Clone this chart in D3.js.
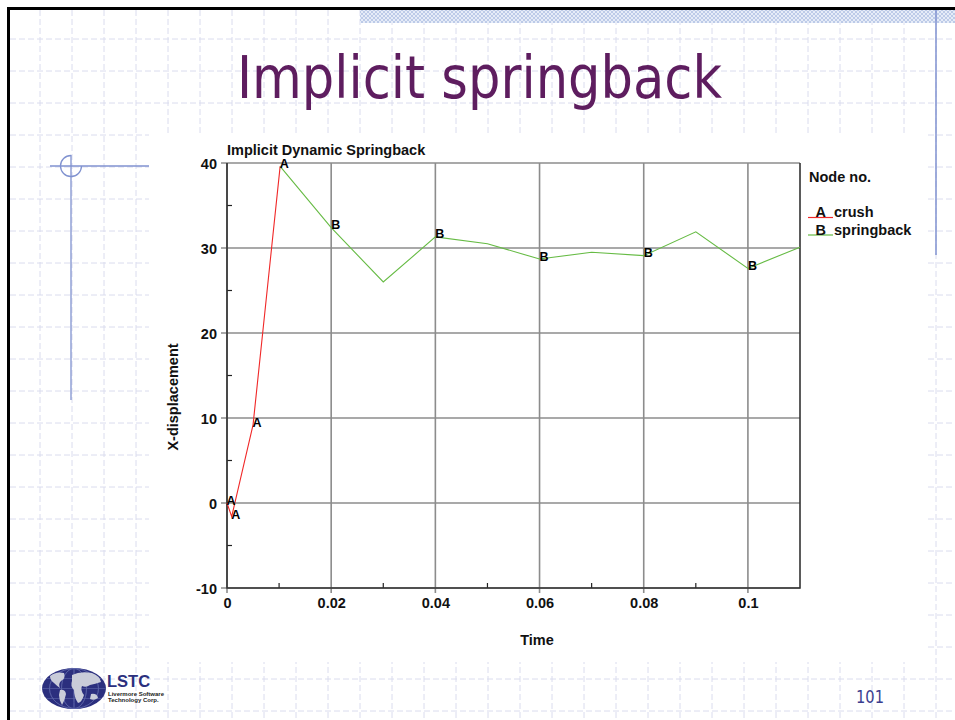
<!DOCTYPE html>
<html>
<head>
<meta charset="utf-8">
<script src="https://cdn.jsdelivr.net/npm/d3@7"></script>
<style>
  html, body { margin: 0; padding: 0; background: #fff; }
  svg { display: block; }
</style>
</head>
<body>
<script>
// ---- data -------------------------------------------------------------
const crushTime = [0, 0.0009, 0.005, 0.0102];
const crushX    = [0, -1.6, 9.2, 39.6];
const crushMarks = [0, 1, 2, 3];

const springTime = [0.0102, 0.02, 0.03, 0.04, 0.05, 0.06, 0.07, 0.08, 0.09, 0.1, 0.11];
const springX    = [39.6, 32.4, 26.0, 31.3, 30.5, 28.7, 29.5, 29.1, 31.9, 27.6, 30.1];
const springMarks = [1, 3, 5, 7, 9];

const xTicks = [0, 0.02, 0.04, 0.06, 0.08, 0.1];
const xTickLabels = ["0", "0.02", "0.04", "0.06", "0.08", "0.1"];
const xMinor = [0.01, 0.03, 0.05, 0.07, 0.09];
const yTicks = [-10, 0, 10, 20, 30, 40];
const yTickLabels = ["-10", "0", "10", "20", "30", "40"];
const yMinor = [-5, 5, 15, 25, 35];

const seriesNames = ["crush", "springback"];
const seriesKeys = ["A", "B"];
const seriesColors = ["#f02828", "#66bb44"];

// ---- page -------------------------------------------------------------
const W = 955, H = 720;
const svg = d3.select("body").append("svg").attr("width", W).attr("height", H);

const defs = svg.append("defs");
const pat = defs.append("pattern").attr("id", "hatch")
  .attr("width", 4).attr("height", 4).attr("patternUnits", "userSpaceOnUse");
pat.append("rect").attr("width", 4).attr("height", 4).attr("fill", "#e6ecf8");
pat.append("path").attr("d", "M0,0L4,4M4,0L0,4").attr("stroke", "#b9c7e6").attr("stroke-width", 0.9);

// dashed slide grid
const page = svg.append("g");
const gridX = d3.range(40, W, 32);
const gridY = d3.range(39, H, 32);
page.selectAll(".gv").data(gridX).join("line")
  .attr("x1", d => d).attr("x2", d => d).attr("y1", 10).attr("y2", H)
  .attr("stroke", "#dadcee").attr("stroke-dasharray", "6,3");
page.selectAll(".gh").data(gridY).join("line")
  .attr("x1", 10).attr("x2", W).attr("y1", d => d).attr("y2", d => d)
  .attr("stroke", "#dadcee").attr("stroke-dasharray", "6,3");

// hatched band at top
page.append("rect").attr("x", 360).attr("y", 10).attr("width", W - 360).attr("height", 13)
  .attr("fill", "url(#hatch)");

// black frame
page.append("line").attr("x1", 7).attr("x2", W).attr("y1", 8.5).attr("y2", 8.5)
  .attr("stroke", "#000").attr("stroke-width", 3);
page.append("line").attr("x1", 8.5).attr("x2", 8.5).attr("y1", 7).attr("y2", H)
  .attr("stroke", "#000").attr("stroke-width", 3);

// blue accent lines
const accent = "#8092d0";
page.append("line").attr("x1", 936).attr("x2", 936).attr("y1", 10).attr("y2", 255)
  .attr("stroke", accent).attr("stroke-width", 1.5);
page.append("line").attr("x1", 50).attr("x2", 150).attr("y1", 166).attr("y2", 166)
  .attr("stroke", accent).attr("stroke-width", 1.3);
page.append("line").attr("x1", 71).attr("x2", 71).attr("y1", 155).attr("y2", 400)
  .attr("stroke", accent).attr("stroke-width", 1.3);
page.append("path")
  .attr("d", d3.arc()({innerRadius: 10.5, outerRadius: 10.5, startAngle: 0, endAngle: -Math.PI * 1.5}))
  .attr("transform", "translate(71,166)")
  .attr("fill", "none").attr("stroke", accent).attr("stroke-width", 1.3);

// slide title
page.append("text").attr("x", 237).attr("y", 98)
  .attr("textLength", 485).attr("lengthAdjust", "spacingAndGlyphs")
  .attr("font-family", "Tahoma, 'DejaVu Sans Condensed', 'DejaVu Sans', sans-serif")
  .attr("font-size", 59).attr("fill", "#5e1d5f")
  .text("Implicit springback");

// page number
page.append("text").attr("x", 856).attr("y", 703)
  .attr("textLength", 28).attr("lengthAdjust", "spacingAndGlyphs")
  .attr("font-family", "Tahoma, 'DejaVu Sans', sans-serif")
  .attr("font-size", 18).attr("fill", "#3a3d8f").text("101");

// LSTC logo
const logo = page.append("g");
const navy = "#2b2f7e";
logo.append("ellipse").attr("cx", 74).attr("cy", 688.5).attr("rx", 32).attr("ry", 20.5)
  .attr("fill", navy);
[-24, -12, 0, 12, 24].forEach(dx => {
  logo.append("ellipse").attr("cx", 74).attr("cy", 688.5)
    .attr("rx", Math.abs(dx) + 0.5).attr("ry", 20)
    .attr("fill", "none").attr("stroke", "#5e66aa").attr("stroke-width", 0.6);
});
[-10, 0, 10].forEach(dy => {
  const hw = 32 * Math.sqrt(1 - (dy / 20.5) ** 2);
  logo.append("line").attr("x1", 74 - hw).attr("x2", 74 + hw)
    .attr("y1", 688.5 + dy).attr("y2", 688.5 + dy)
    .attr("stroke", "#5e66aa").attr("stroke-width", 0.6);
});
const land = "#c9ccd9";
logo.append("path").attr("fill", land)
  .attr("d", "M50,676 Q56,671 64,673 Q66,678 61,681 Q58,684 60,688 Q57,686 54,683 Q50,680 50,676Z");
logo.append("path").attr("fill", land)
  .attr("d", "M60,690 Q65,689 66,694 Q65,700 62,705 Q59,700 59,695Z");
logo.append("path").attr("fill", land)
  .attr("d", "M72,675 Q80,671 92,673 Q100,676 101,682 Q95,684 90,685 Q86,688 82,686 Q80,690 84,695 Q82,702 78,703 Q74,697 74,690 Q70,686 72,681Z");
logo.append("path").attr("fill", land)
  .attr("d", "M91,694 Q97,693 98,698 Q94,701 90,699Z");
logo.append("text").attr("x", 107).attr("y", 687)
  .attr("font-family", "'Liberation Sans', Arial, sans-serif").attr("font-weight", "bold")
  .attr("font-size", 16.5).attr("fill", navy).text("LSTC");
logo.append("text").attr("x", 108).attr("y", 695.5)
  .attr("font-family", "'Liberation Sans', Arial, sans-serif").attr("font-weight", "bold")
  .attr("font-size", 6).attr("fill", "#222").text("Livermore Software");
logo.append("text").attr("x", 108).attr("y", 702)
  .attr("font-family", "'Liberation Sans', Arial, sans-serif").attr("font-weight", "bold")
  .attr("font-size", 6).attr("fill", "#222").text("Technology Corp.");

// ---- chart ------------------------------------------------------------
page.append("rect").attr("x", 149).attr("y", 133).attr("width", 777).attr("height", 529)
  .attr("fill", "#fff");

const chart = svg.append("g")
  .attr("font-family", "'Liberation Sans', Arial, Helvetica, sans-serif")
  .attr("font-weight", "bold");

const x = d3.scaleLinear().domain([0, 0.11]).range([227, 800]);
const y = d3.scaleLinear().domain([-10, 40]).range([588, 163]);

// grid lines at major ticks (extending past the axes as tick marks)
chart.selectAll(".gy").data(yTicks).join("line")
  .attr("x1", x(0) - 6).attr("x2", x(0.11))
  .attr("y1", d => y(d)).attr("y2", d => y(d))
  .attr("stroke", "#8c8c8c").attr("stroke-width", 1.6);
chart.selectAll(".gx").data(xTicks).join("line")
  .attr("x1", d => x(d)).attr("x2", d => x(d))
  .attr("y1", y(40)).attr("y2", y(-10) + 5)
  .attr("stroke", "#8c8c8c").attr("stroke-width", 1.6);

// minor ticks pointing inward
chart.selectAll(".my").data(yMinor).join("line")
  .attr("x1", x(0)).attr("x2", x(0) + 5)
  .attr("y1", d => y(d)).attr("y2", d => y(d))
  .attr("stroke", "#222").attr("stroke-width", 1.2);
chart.selectAll(".mx").data(xMinor).join("line")
  .attr("x1", d => x(d)).attr("x2", d => x(d))
  .attr("y1", y(-10)).attr("y2", y(-10) - 5)
  .attr("stroke", "#222").attr("stroke-width", 1.2);

// frame: left, bottom, right in dark lines
chart.append("path")
  .attr("d", `M${x(0)},${y(40)}V${y(-10)}H${x(0.11)}V${y(40)}`)
  .attr("fill", "none").attr("stroke", "#333").attr("stroke-width", 1.6);

// tick labels through d3 axes
const axB = chart.append("g").attr("transform", `translate(0,${y(-10)})`)
  .call(d3.axisBottom(x).tickValues(xTicks).tickSize(0).tickPadding(10)
    .tickFormat((d, i) => xTickLabels[i]));
const axL = chart.append("g").attr("transform", `translate(${x(0)},0)`)
  .call(d3.axisLeft(y).tickValues(yTicks).tickSize(0).tickPadding(10)
    .tickFormat((d, i) => yTickLabels[i]));
[axB, axL].forEach(a => {
  a.select(".domain").remove();
  a.selectAll("text").attr("font-family", "'Liberation Sans', Arial, sans-serif")
    .attr("font-weight", "bold").attr("font-size", 14.5).attr("fill", "#111");
});
axL.selectAll("text").attr("dy", "0.36em");

// titles
chart.append("text").attr("x", 227).attr("y", 155)
  .attr("font-size", 14.5).attr("fill", "#111").text("Implicit Dynamic Springback");
chart.append("text").attr("x", 537).attr("y", 645).attr("text-anchor", "middle")
  .attr("font-size", 14.5).attr("fill", "#111").text("Time");
chart.append("text").attr("transform", "translate(178,397) rotate(-90)")
  .attr("text-anchor", "middle")
  .attr("font-size", 14.5).attr("fill", "#111").text("X-displacement");

// curves
const line = d3.line().x(d => x(d[0])).y(d => y(d[1]));
const crush = crushTime.map((t, i) => [t, crushX[i]]);
const spring = springTime.map((t, i) => [t, springX[i]]);
chart.append("path").attr("d", line(crush)).attr("fill", "none")
  .attr("stroke", seriesColors[0]).attr("stroke-width", 1.1);
chart.append("path").attr("d", line(spring)).attr("fill", "none")
  .attr("stroke", seriesColors[1]).attr("stroke-width", 1.1);

// letter markers along curves
chart.selectAll(".la").data(crushMarks).join("text")
  .attr("x", i => x(crush[i][0]) - 0.5).attr("y", i => y(crush[i][1]) + 2)
  .attr("font-size", 12.5).attr("fill", "#000").text(seriesKeys[0]);
chart.selectAll(".lb").data(springMarks).join("text")
  .attr("x", i => x(spring[i][0])).attr("y", i => y(spring[i][1]) + 1.5)
  .attr("font-size", 12.5).attr("fill", "#000").text(seriesKeys[1]);

// legend
const leg = chart.append("g");
leg.append("text").attr("x", 809).attr("y", 181.5).attr("font-size", 14.5)
  .attr("fill", "#111").text("Node no.");
seriesNames.forEach((name, i) => {
  const yy = 217 + i * 17.5;
  leg.append("line").attr("x1", 808).attr("x2", 833).attr("y1", yy + 0.5).attr("y2", yy + 0.5)
    .attr("stroke", seriesColors[i]).attr("stroke-width", 1.2);
  leg.append("text").attr("x", 820.7).attr("y", yy).attr("text-anchor", "middle")
    .attr("font-size", 14.5).attr("fill", "#111").text(seriesKeys[i]);
  leg.append("text").attr("x", 834).attr("y", yy)
    .attr("font-size", 14.5).attr("fill", "#111").text(name);
});
</script>
</body>
</html>
